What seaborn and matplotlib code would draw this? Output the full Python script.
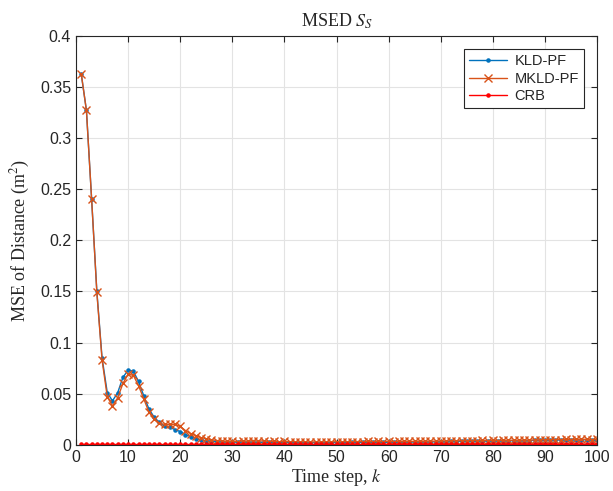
import numpy as np
import pandas as pd
import matplotlib
matplotlib.use("Agg")
import matplotlib.pyplot as plt
import seaborn as sns

k = list(range(1, 101))
kld_pf = [0.363, 0.327, 0.240, 0.150, 0.085, 0.051, 0.043, 0.051, 0.066, 0.073,
          0.072, 0.062, 0.048, 0.035, 0.027, 0.022, 0.018, 0.017, 0.015, 0.013,
          0.010, 0.008, 0.006, 0.005, 0.004, 0.0035, 0.003, 0.003, 0.0028, 0.0027,
          0.0026, 0.0027, 0.0025, 0.0026, 0.0024, 0.0025, 0.0023, 0.0024, 0.0022, 0.0023,
          0.0022, 0.0021, 0.0022, 0.0021, 0.0020, 0.0021, 0.0020, 0.0021, 0.0021, 0.0022,
          0.0021, 0.0022, 0.0023, 0.0022, 0.0023, 0.0024, 0.0023, 0.0024, 0.0025, 0.0025,
          0.0026, 0.0025, 0.0027, 0.0026, 0.0028, 0.0027, 0.0029, 0.0028, 0.0030, 0.0031,
          0.0031, 0.0033, 0.0032, 0.0034, 0.0033, 0.0035, 0.0035, 0.0037, 0.0036, 0.0038,
          0.0038, 0.0040, 0.0039, 0.0041, 0.0040, 0.0042, 0.0042, 0.0044, 0.0043, 0.0045,
          0.0046, 0.0047, 0.0048, 0.0050, 0.0050, 0.0051, 0.0050, 0.0049, 0.0048, 0.0046]
mkld_pf = [0.363, 0.327, 0.240, 0.149, 0.083, 0.047, 0.038, 0.046, 0.060, 0.069,
           0.068, 0.058, 0.045, 0.032, 0.025, 0.021, 0.020, 0.020, 0.020, 0.018,
           0.014, 0.011, 0.009, 0.007, 0.006, 0.005, 0.0042, 0.0038, 0.0033, 0.0036,
           0.0031, 0.0040, 0.0034, 0.0042, 0.0036, 0.0040, 0.0032, 0.0035, 0.0030, 0.0033,
           0.0029, 0.0031, 0.0028, 0.0030, 0.0027, 0.0029, 0.0027, 0.0030, 0.0028, 0.0031,
           0.0029, 0.0031, 0.0030, 0.0032, 0.0030, 0.0033, 0.0031, 0.0033, 0.0031, 0.0034,
           0.0032, 0.0034, 0.0033, 0.0035, 0.0033, 0.0036, 0.0034, 0.0037, 0.0035, 0.0038,
           0.0037, 0.0040, 0.0038, 0.0041, 0.0039, 0.0042, 0.0040, 0.0043, 0.0041, 0.0044,
           0.0042, 0.0045, 0.0043, 0.0046, 0.0044, 0.0047, 0.0045, 0.0048, 0.0046, 0.0050,
           0.0048, 0.0052, 0.0050, 0.0055, 0.0052, 0.0056, 0.0053, 0.0055, 0.0051, 0.0053]
crb = [0.0005] * 100

series_names = ["KLD-PF", "MKLD-PF", "CRB"]
series_values = [kld_pf, mkld_pf, crb]
colors = ["#0072BD", "#D95319", "#FF0000"]
markers = [".", "x", "."]
msizes = [4.5, 5.5, 4.5]

sns.set_style("white")
plt.rcParams["mathtext.fontset"] = "stix"
plt.rcParams["font.family"] = ["Liberation Sans", "DejaVu Sans"]

fig = plt.figure(figsize=(6.13, 4.91), dpi=100)
ax = fig.add_axes([0.124, 0.094, 0.850, 0.833])

for nm, vals, c, m, ms in zip(series_names, series_values, colors, markers, msizes):
    d = pd.DataFrame({"k": k, "mse": vals})
    sns.lineplot(data=d, x="k", y="mse", color=c, marker=m, markersize=ms,
                 markeredgecolor=c, markerfacecolor=c,
                 markeredgewidth=1.0, linewidth=1.0, label=nm, ax=ax)

ax.set_xlim(0, 100)
ax.set_ylim(0, 0.4)
ax.set_xticks(np.arange(0, 101, 10))
ax.set_yticks(np.arange(0, 0.41, 0.05))
ax.set_yticklabels(["0", "0.05", "0.1", "0.15", "0.2", "0.25", "0.3", "0.35", "0.4"])
ax.grid(True, color="#e3e3e3", linewidth=0.8)
ax.tick_params(direction="in", length=4, labelsize=11.5, colors="#262626",
               top=True, right=True, bottom=True, left=True)
for sp in ax.spines.values():
    sp.set_color("#262626")
    sp.set_linewidth(0.8)

ax.set_title(r"MSED $S_S$", fontsize=13, family="Liberation Serif", pad=7)
ax.set_xlabel(r"Time step, $k$", fontsize=13, family="Liberation Serif", labelpad=2)
ax.set_ylabel(r"MSE of Distance (m$^2$)", fontsize=13, family="Liberation Serif", labelpad=6)

leg = ax.legend(loc="upper right", fontsize=10.5, frameon=True,
                fancybox=False, edgecolor="#262626", framealpha=1,
                borderaxespad=0.9, handlelength=2.6, handletextpad=0.5,
                borderpad=0.35, labelspacing=0.25)
leg.get_frame().set_linewidth(0.8)

fig.savefig("out.png", dpi=100)
